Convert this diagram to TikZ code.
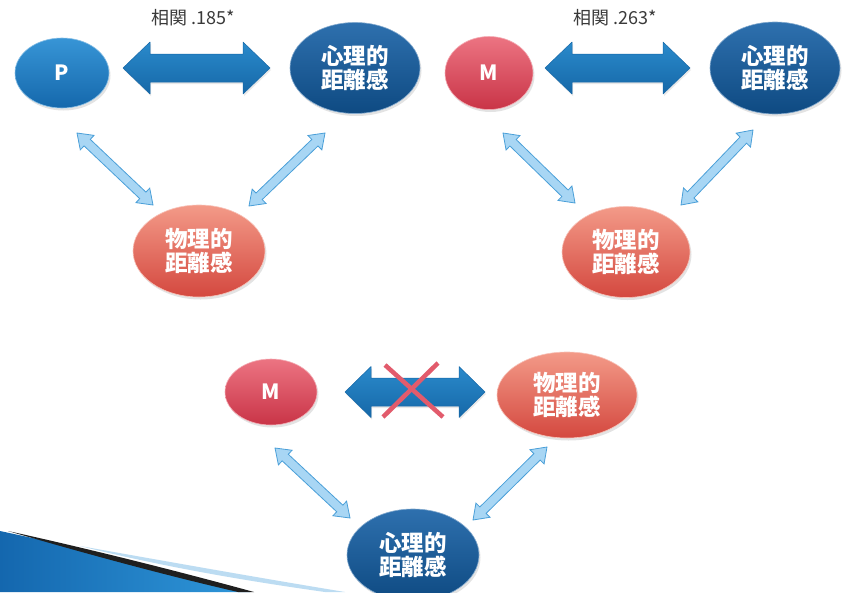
\documentclass[tikz,border=0pt]{standalone}
\usepackage{fontspec}
\newfontfamily\cjk{Noto Sans CJK JP}
\usetikzlibrary{shapes.geometric,calc,shadows}
\definecolor{pblueT}{HTML}{3795D6}
\definecolor{pblueB}{HTML}{1568AC}
\definecolor{dblueT}{HTML}{2E70AE}
\definecolor{dblueB}{HTML}{0E4A82}
\definecolor{mredT}{HTML}{EC7482}
\definecolor{mredB}{HTML}{C93447}
\definecolor{phT}{HTML}{F39A88}
\definecolor{phB}{HTML}{D4483F}
\definecolor{fatT}{HTML}{2A8ACB}
\definecolor{fatB}{HTML}{1668A8}
\definecolor{thinF}{HTML}{A8D6F4}
\definecolor{thinD}{HTML}{4A9FD8}
\definecolor{xred}{HTML}{E25B6C}
\definecolor{labelgray}{HTML}{3A3A3A}
\definecolor{swA}{HTML}{1467AE}
\definecolor{swB}{HTML}{2F97DA}
\definecolor{swL}{HTML}{BCDCF2}
\newcommand{\dblarrow}[6]{%
 \coordinate (da) at ($(#2)!#4!(#3)$);
 \coordinate (db) at ($(#3)!#4!(#2)$);
 \path[#1] (#2) -- ($(da)!#5!90:(#3)$) -- ($(da)!#6!90:(#3)$) -- ($(db)!#6!-90:(#2)$) -- ($(db)!#5!-90:(#2)$) -- (#3) -- ($(db)!#5!90:(#2)$) -- ($(db)!#6!90:(#2)$) -- ($(da)!#6!-90:(#3)$) -- ($(da)!#5!-90:(#3)$) -- cycle;}
\begin{document}
\begin{tikzpicture}[x=1pt,y=-1pt,
 ell/.style={ellipse, inner sep=0pt, align=center, text=white,
   font=\cjk\bfseries\fontsize{22.5}{23.5}\selectfont,
   drop shadow={shadow xshift=1.5pt,shadow yshift=-2.5pt,opacity=0.22}},
 pell/.style={ell, top color=pblueT, bottom color=pblueB, draw=pblueT!60!white, line width=0.6pt},
 dell/.style={ell, top color=dblueT, bottom color=dblueB, draw=dblueT!60!white, line width=0.6pt},
 mell/.style={ell, top color=mredT, bottom color=mredB, draw=mredT!60!white, line width=0.6pt},
 hell/.style={ell, top color=phT, bottom color=phB, draw=phT!60!white, line width=0.6pt},
 letter/.style={font=\cjk\bfseries\fontsize{21}{21}\selectfont},
 corrlabel/.style={font=\cjk\fontsize{18}{18}\selectfont, text=labelgray},
 fatarr/.style={top color=fatT, bottom color=fatB, draw=fatB, line width=0.5pt, line join=round,
   drop shadow={shadow xshift=1pt,shadow yshift=-2pt,opacity=0.18}},
 thinarr/.style={fill=thinF, draw=thinD, line width=0.8pt, line join=miter},
 crossline/.style={draw=xred, line width=4.5pt}
]
\fill[white] (0,0) rectangle (846,592);
\useasboundingbox (0,0) rectangle (846,592);

% swoosh bottom-left
\fill[swL] (80,546) .. controls (170,562) and (260,578) .. (345,592) -- (325,592) .. controls (240,580) and (160,566) .. (80,546) -- cycle;
\shade[left color=swA, right color=swB] (0,531) .. controls (80,548) and (170,570) .. (250,592) -- (0,592) -- cycle;
\fill[black!88] (8,531) .. controls (85,548) and (170,569) .. (254,592) -- (238,592) .. controls (160,574) and (80,552) .. (8,531) -- cycle;

% group 1
\node[pell, minimum width=94pt, minimum height=70pt] (P) at (62,73) {};
\node[letter, text=white] (Pt) at (P) {P};
\node[dell, minimum width=130pt, minimum height=91pt] (S1) at (355,68) {心理的\\距離感};
\node[hell, minimum width=132pt, minimum height=92pt] (H1) at (199,251) {物理的\\距離感};
\node[corrlabel] (L1) at (193,18) {相関 .185*};

% group 2
\node[mell, minimum width=88pt, minimum height=73pt] (M2) at (489,73) {};
\node[letter, text=white] (Mt2) at (M2) {M};
\node[dell, minimum width=130pt, minimum height=92pt] (S2) at (775,68) {心理的\\距離感};
\node[hell, minimum width=128pt, minimum height=91pt] (H2) at (626,252) {物理的\\距離感};
\node[corrlabel] (L2) at (615,18) {相関 .263*};

% group 3
\node[mell, minimum width=92pt, minimum height=66pt] (M3) at (271,392) {};
\node[letter, text=white] (Mt3) at (M3) {M};
\node[hell, minimum width=140pt, minimum height=86pt] (H3) at (567,395) {物理的\\距離感};
\node[dell, minimum width=132pt, minimum height=92pt] (S3) at (413,555) {心理的\\距離感};

% connector end coordinates
\coordinate (a1s) at (123,68); \coordinate (a1e) at (270,68);
\coordinate (a2s) at (545,68); \coordinate (a2e) at (690,68);
\coordinate (a3s) at (345,392); \coordinate (a3e) at (485,392);
\coordinate (t1s) at (77,133);  \coordinate (t1e) at (153,205);
\coordinate (t2s) at (325,133); \coordinate (t2e) at (249,206);
\coordinate (t3s) at (503,133); \coordinate (t3e) at (575,203);
\coordinate (t4s) at (753,130); \coordinate (t4e) at (681,205);
\coordinate (t5s) at (275,448); \coordinate (t5e) at (350,518);
\coordinate (t6s) at (547,447); \coordinate (t6e) at (473,520);
\coordinate (x1s) at (385,365); \coordinate (x1e) at (443,417);
\coordinate (x2s) at (438,363); \coordinate (x2e) at (383,417);

% fat double arrows
\dblarrow{fatarr}{a1s}{a1e}{27pt}{26pt}{14pt}
\dblarrow{fatarr}{a2s}{a2e}{27pt}{26pt}{14pt}
\dblarrow{fatarr}{a3s}{a3e}{26pt}{25.5pt}{14pt}

% thin double arrows
\dblarrow{thinarr}{t1s}{t1e}{14pt}{10pt}{4.5pt}
\dblarrow{thinarr}{t2s}{t2e}{14pt}{10pt}{4.5pt}
\dblarrow{thinarr}{t3s}{t3e}{14pt}{10pt}{4.5pt}
\dblarrow{thinarr}{t4s}{t4e}{14pt}{10pt}{4.5pt}
\dblarrow{thinarr}{t5s}{t5e}{14pt}{10pt}{4.5pt}
\dblarrow{thinarr}{t6s}{t6e}{14pt}{10pt}{4.5pt}

% cross
\draw[crossline] (x1s) -- (x1e);
\draw[crossline] (x2s) -- (x2e);
\end{tikzpicture}
\end{document}
